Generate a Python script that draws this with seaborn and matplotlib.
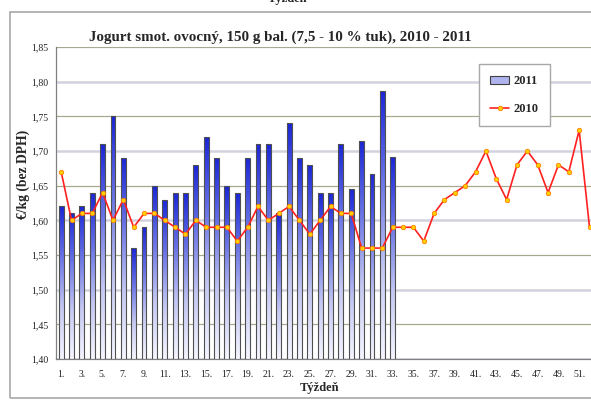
import numpy as np
import pandas as pd
import matplotlib
matplotlib.use("Agg")
import matplotlib.pyplot as plt
from matplotlib.colors import LinearSegmentedColormap
from matplotlib.patches import Patch, Rectangle
from matplotlib.lines import Line2D
import seaborn as sns

sns.set_style("white")
plt.rcParams['font.family'] = ['Liberation Serif', 'DejaVu Serif']

# cena za tyzden, €/kg bez DPH
weeks_2011 = list(range(1, 34))
price_2011 = [1.62, 1.61, 1.62, 1.64, 1.71, 1.75, 1.69, 1.56, 1.59, 1.65,
              1.63, 1.64, 1.64, 1.68, 1.72, 1.69, 1.65, 1.64, 1.69, 1.71,
              1.71, 1.61, 1.74, 1.69, 1.68, 1.64, 1.64, 1.71, 1.645, 1.715,
              1.667, 1.787, 1.691]
weeks_2010 = list(range(1, 53))
price_2010 = [1.67, 1.60, 1.61, 1.61, 1.64, 1.60, 1.63, 1.59, 1.61, 1.61,
              1.60, 1.59, 1.58, 1.60, 1.59, 1.59, 1.59, 1.57, 1.59, 1.62,
              1.60, 1.61, 1.62, 1.60, 1.58, 1.60, 1.62, 1.61, 1.61, 1.56,
              1.56, 1.56, 1.59, 1.59, 1.59, 1.57, 1.61, 1.63, 1.64, 1.65,
              1.67, 1.70, 1.66, 1.63, 1.68, 1.70, 1.68, 1.64, 1.68, 1.67,
              1.73, 1.59]
yticks = np.round(np.arange(1.40, 1.851, 0.05), 2)
xtick_weeks = list(range(1, 53, 2))

df11 = pd.DataFrame({"week": weeks_2011, "price": price_2011})
df10 = pd.DataFrame({"week": weeks_2010, "price": price_2010})

fig = plt.figure(figsize=(5.91, 4.03), dpi=100)
ax = fig.add_axes([56 / 591, 44 / 403, 538.7 / 591, 312 / 403])

sns.barplot(data=df11, x="week", y="price", native_scale=True, width=0.47,
            color="#5060e0", edgecolor="#505050", linewidth=0.8, ax=ax,
            zorder=3)

# prechod farby v stlpcoch (ako v exceli)
cmap = LinearSegmentedColormap.from_list(
    "bar", ["#f6f6ff", "#c4c8f2", "#6a74e6", "#1a26d6"])
grad = np.linspace(0, 1, 256).reshape(-1, 1)
for p in list(ax.patches):
    x0, w, h = p.get_x(), p.get_width(), p.get_height()
    im = ax.imshow(grad, extent=[x0, x0 + w, 1.40, h], aspect="auto",
                   cmap=cmap, origin="lower", zorder=2.5)
    im.set_clip_path(p)
    p.set_facecolor("none")
    p.set_zorder(3)

sns.lineplot(data=df10, x="week", y="price", color="#ff2020", lw=1.2,
             marker="o", markersize=3.2, markerfacecolor="#ffd000",
             markeredgecolor="#ff8000", markeredgewidth=0.6, ax=ax,
             legend=False, zorder=4)

ax.set_xlim(0.5, 52.5)
ax.set_ylim(1.40, 1.85)
ax.set_aspect("auto")

ax.set_yticks(yticks)
ax.set_yticklabels([f"{v:.2f}".replace(".", ",") for v in yticks])
ax.yaxis.grid(True)
for i, gl in enumerate(ax.get_ygridlines()):
    if i % 2 == 1:
        gl.set_color("#a8a890")
        gl.set_linewidth(0.9)
    else:
        gl.set_color("#d2d2de")
        gl.set_linewidth(1.8)
ax.set_axisbelow(True)

ax.set_xticks(xtick_weeks)
ax.set_xticklabels([f"{w}." for w in xtick_weeks])
ax.set_xticks(np.arange(0.5, 53, 1), minor=True)
ax.tick_params(axis="x", which="major", length=0, pad=8, labelsize=7,
               labelcolor="#222222")
ax.tick_params(axis="x", which="minor", direction="inout", length=5,
               color="#707070", width=0.8)
ax.tick_params(axis="y", direction="inout", length=5, color="#707070",
               width=0.8, labelsize=7, labelcolor="#222222", pad=3)

for s in ["top", "right"]:
    ax.spines[s].set_visible(False)
for s in ["left", "bottom"]:
    ax.spines[s].set_color("#808080")
    ax.spines[s].set_linewidth(0.9)

ax.set_xlabel("")
ax.set_ylabel("")
fig.text(320 / 591, 1 - 388 / 403, "Týždeň", ha="center", va="center",
         fontsize=9, fontweight="bold")
fig.text(23 / 591, 1 - 174 / 403, "€/kg (bez DPH)", ha="center",
         va="center", rotation=90, fontsize=9.8, fontweight="bold")
fig.text(280 / 591, 1 - 37 / 403,
         "Jogurt smot. ovocný, 150 g bal. (7,5 - 10 % tuk), 2010 - 2011",
         ha="center", va="center", fontsize=10.8, fontweight="bold")
# zvysok popisu z predchadzajuceho grafu nad ramikom
fig.text(288 / 591, 1 + 1 / 403, "Týždeň", ha="center", va="center",
         fontsize=9, fontweight="bold")

fig.add_artist(Rectangle((10 / 591, 5 / 403), 1.2, (398 - 12) / 403,
                         transform=fig.transFigure, fill=False,
                         edgecolor="#a8a8a8", lw=1.2))

handles = [Patch(facecolor="#b0b4ee", edgecolor="#404040", lw=0.8),
           Line2D([], [], color="#ff2020", lw=1.2, marker="o", markersize=3.2,
                  markerfacecolor="#ffd000", markeredgecolor="#ff8000",
                  markeredgewidth=0.6)]
leg = ax.legend(handles, ["2011", "2010"], loc="upper left",
                bbox_to_anchor=(0.785, 0.9455), frameon=True, fancybox=False,
                edgecolor="#a8a8a8", framealpha=1,
                prop={"weight": "bold", "size": 9, "family": "Liberation Serif"},
                labelspacing=1.25, borderpad=0.9, handlelength=1.5,
                handleheight=0.6, handletextpad=0.4, borderaxespad=0)
leg.get_frame().set_linewidth(1.0)

plt.savefig("out.png", dpi=100)
